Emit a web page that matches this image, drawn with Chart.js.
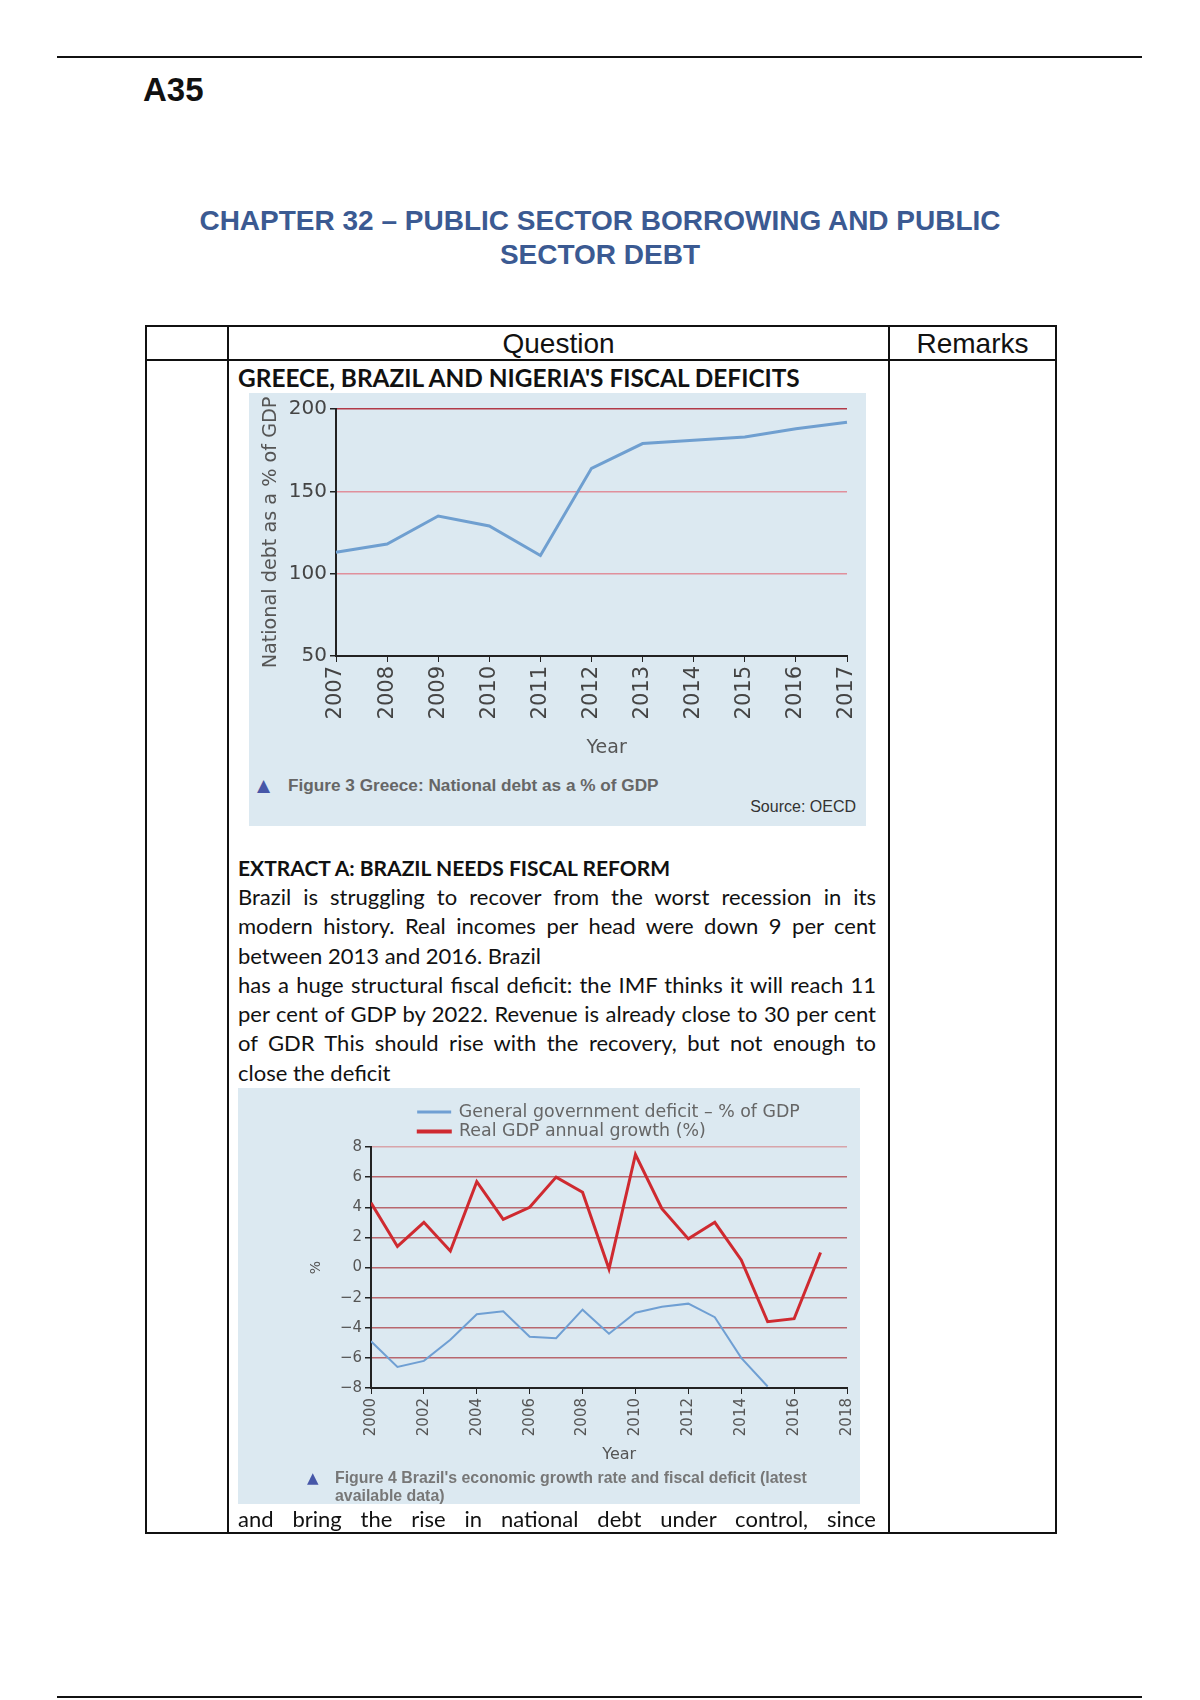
<!DOCTYPE html>
<html>
<head>
<meta charset="utf-8">
<script src="https://cdn.jsdelivr.net/npm/chart.js@4.4.0/dist/chart.umd.min.js"></script>
<style>
  body { margin: 0; width: 1200px; height: 1700px; background: #fff; position: relative; overflow: hidden;
         font-family: "Liberation Sans", Arial, sans-serif; color: #111; }
  .abs { position: absolute; }
  .rule { position: absolute; left: 57px; width: 1085px; height: 2px; background: #111; }
  .vline { position: absolute; width: 2px; background: #111; }
  .hline { position: absolute; height: 2px; background: #111; }
  .title { position: absolute; left: 0; width: 1200px; text-align: center; font-weight: bold; font-size: 28px;
           line-height: 34px; color: #3b5a92; }
  .body { font-family: Lato, "Open Sans", sans-serif; font-size: 22px; }
  .just { text-align: justify; text-align-last: justify; }
  .panel { position: absolute; background: #dce9f1; }
  .cap { position: absolute; font-weight: bold; color: #666; }
  .tri { position: absolute; font-family: "DejaVu Sans"; color: #4657a8; }
</style>
</head>
<body>

<div class="rule" style="top:56px"></div>
<div class="rule" style="top:1696px"></div>

<div class="abs" style="left:143px; top:70px; font-size:33px; font-weight:bold; line-height:40px;">A35</div>

<div class="title" style="top:204px">CHAPTER 32 – PUBLIC SECTOR BORROWING AND PUBLIC</div>
<div class="title" style="top:238px">SECTOR DEBT</div>

<!-- table -->
<div class="hline" style="left:146px; top:325px; width:911px"></div>
<div class="hline" style="left:146px; top:359px; width:911px"></div>
<div class="hline" style="left:146px; top:1532px; width:911px"></div>
<div class="vline" style="left:145px; top:325px; height:1209px"></div>
<div class="vline" style="left:227px; top:325px; height:1209px"></div>
<div class="vline" style="left:888px; top:325px; height:1209px"></div>
<div class="vline" style="left:1055px; top:325px; height:1209px"></div>

<div class="abs" style="left:229px; width:659px; top:327px; text-align:center; font-size:28px; line-height:34px;">Question</div>
<div class="abs" style="left:890px; width:165px; top:327px; text-align:center; font-size:28px; line-height:34px;">Remarks</div>

<div class="abs body" style="left:238px; top:365px; line-height:26px; font-size:24.4px; font-weight:bold;">GREECE, BRAZIL AND NIGERIA'S FISCAL DEFICITS</div>

<!-- figure 3 -->
<div class="panel" style="left:249px; top:393px; width:617px; height:433px;">
  <canvas id="greeceChart" width="617" height="370" style="position:absolute; left:0; top:0; width:617px; height:370px;"></canvas>
</div>
<div class="tri" style="left:257px; top:774px; font-size:17px; line-height:22px;">▲</div>
<div class="cap" style="left:288px; top:774px; font-size:17.2px; line-height:22px;">Figure 3 Greece: National debt as a % of GDP</div>
<div class="abs" style="left:700px; width:156px; top:797px; text-align:right; font-size:16px; line-height:20px; color:#333;">Source: OECD</div>

<!-- extract -->
<div class="abs body" style="left:238px; top:855px; line-height:26px; font-size:21px; font-weight:bold;">EXTRACT A: BRAZIL NEEDS FISCAL REFORM</div>
<div class="abs body" style="left:238px; top:882px; width:638px; line-height:29.3px;">
  <div class="just">Brazil is struggling to recover from the worst recession in its</div>
  <div class="just">modern history. Real incomes per head were down 9 per cent</div>
  <div>between 2013 and 2016. Brazil</div>
  <div class="just">has a huge structural fiscal deficit: the IMF thinks it will reach 11</div>
  <div class="just">per cent of GDP by 2022. Revenue is already close to 30 per cent</div>
  <div class="just">of GDR This should rise with the recovery, but not enough to</div>
  <div>close the deficit</div>
</div>

<!-- figure 4 -->
<div class="panel" style="left:238px; top:1088px; width:622px; height:416px;">
  <canvas id="brazilChart" width="622" height="385" style="position:absolute; left:0; top:0; width:622px; height:385px;"></canvas>
</div>
<div class="tri" style="left:307px; top:1468px; font-size:15px; line-height:20px;">▲</div>
<div class="cap" style="left:335px; top:1469px; font-size:15.9px; line-height:18px; color:#777;">Figure 4 Brazil's economic growth rate and fiscal deficit (latest<br>available data)</div>

<div class="abs body just" style="left:238px; top:1505px; width:638px; line-height:28px;">and bring the rise in national debt under control, since</div>

<script>
// Figure 3: Greece national debt as % of GDP
const greeceYears = ['2007', '2008', '2009', '2010', '2011', '2012', '2013', '2014', '2015', '2016', '2017'];
const greeceDebt = [113, 118, 135, 129, 111, 164, 179, 181, 183, 188, 192];
const greeceTicks = [50, 100, 150, 200];

// Figure 4: Brazil growth and deficit
const brazilYears = [2000, 2001, 2002, 2003, 2004, 2005, 2006, 2007, 2008, 2009, 2010, 2011, 2012, 2013, 2014, 2015, 2016, 2017];
const gdpGrowth = [4.3, 1.4, 3.0, 1.1, 5.7, 3.2, 4.0, 6.0, 5.0, -0.1, 7.5, 3.9, 1.9, 3.0, 0.5, -3.6, -3.4, 1.0];
const govDeficit = [-4.9, -6.6, -6.2, -4.8, -3.1, -2.9, -4.6, -4.7, -2.8, -4.4, -3.0, -2.6, -2.4, -3.3, -6.0, -7.9];
const brazilYTicks = [-8, -6, -4, -2, 0, 2, 4, 6, 8];

Chart.defaults.font.family = '"DejaVu Sans", sans-serif';
Chart.defaults.color = '#444';

// keep the plot edges where the page wants them, whatever the rotated labels ask for
function fixX(h) {
  return (scale) => { scale.height = h; scale.paddingLeft = 0; scale.paddingRight = 0; };
}

new Chart(document.getElementById('greeceChart'), {
  type: 'line',
  data: {
    labels: greeceYears,
    datasets: [{
      label: 'National debt as a % of GDP',
      data: greeceDebt,
      borderColor: '#6f9fd0',
      borderWidth: 3,
      pointRadius: 0,
      tension: 0
    }]
  },
  options: {
    responsive: false,
    animation: false,
    devicePixelRatio: 1,
    layout: { padding: { top: 16, right: 19, left: 0, bottom: 0 } },
    plugins: { legend: { display: false }, tooltip: { enabled: false } },
    scales: {
      x: {
        afterFit: fixX(107),
        grid: { drawOnChartArea: false, tickLength: 6, tickColor: '#222' },
        border: { color: '#222', width: 2 },
        ticks: { autoSkip: false, minRotation: 90, maxRotation: 90, padding: 4, color: '#444', font: { size: 21 } },
        // leading spaces nudge the title right, as in the original
        title: { display: true, text: '\u00a0\u00a0\u00a0\u00a0\u00a0Year', color: '#555', font: { size: 19 }, padding: { top: 0, bottom: 4 } }
      },
      y: {
        min: greeceTicks[0],
        max: greeceTicks[greeceTicks.length - 1],
        afterFit: (scale) => { scale.width = 87; },
        afterBuildTicks: (scale) => { scale.ticks = greeceTicks.map(v => ({ value: v })); },
        grid: {
          color: (c) => c.tick.value === 200 ? '#b23a48' : (c.tick.value === 50 ? 'rgba(0,0,0,0)' : '#e0909c'),
          lineWidth: 1.5,
          tickLength: 6,
          tickColor: '#222'
        },
        border: { color: '#222', width: 2 },
        ticks: { padding: 3, color: '#444', font: { size: 20 } },
        title: { display: true, text: 'National debt as a % of GDP', color: '#555', font: { size: 19.2 }, padding: { top: 10, bottom: 0 } }
      }
    }
  }
});

// pad the shorter legend text so both rows line up on the left
function padLabels(chart) {
  const items = Chart.defaults.plugins.legend.labels.generateLabels(chart);
  const ctx = chart.ctx;
  ctx.save();
  ctx.font = '17.4px "DejaVu Sans"';
  const widest = Math.max(...items.map(it => ctx.measureText(it.text).width));
  items.forEach(it => {
    while (ctx.measureText(it.text + '\u00a0').width <= widest) it.text += '\u00a0';
  });
  ctx.restore();
  return items;
}

new Chart(document.getElementById('brazilChart'), {
  type: 'line',
  data: {
    datasets: [{
      label: 'General government deficit \u2013 % of GDP',
      data: govDeficit.map((v, i) => ({ x: brazilYears[i], y: v })),
      borderColor: '#6f9fd3',
      backgroundColor: '#6f9fd3',
      borderWidth: 2,
      pointRadius: 0,
      tension: 0
    }, {
      label: 'Real GDP annual growth (%)',
      data: gdpGrowth.map((v, i) => ({ x: brazilYears[i], y: v })),
      borderColor: '#cf2a30',
      backgroundColor: '#cf2a30',
      borderWidth: 3,
      pointRadius: 0,
      tension: 0
    }]
  },
  options: {
    responsive: false,
    animation: false,
    devicePixelRatio: 1,
    layout: { padding: { top: 13.3, right: 13, left: 0, bottom: 0 } },
    plugins: {
      tooltip: { enabled: false },
      legend: {
        position: 'top',
        fullSize: false,
        align: 'center',
        maxHeight: 45.7,
        labels: { boxWidth: 32, boxHeight: 1, padding: 2, color: '#666', font: { size: 17.4 }, generateLabels: padLabels }
      }
    },
    scales: {
      x: {
        type: 'linear',
        min: 2000,
        max: 2018,
        afterFit: fixX(85),
        grid: { drawOnChartArea: false, tickLength: 6, tickColor: '#222' },
        border: { color: '#222', width: 2 },
        ticks: { stepSize: 2, minRotation: 90, maxRotation: 90, padding: 4, color: '#555', font: { size: 15 },
                 callback: (v) => String(v) },
        title: { display: true, text: '\u00a0\u00a0\u00a0\u00a0Year', color: '#555', font: { size: 16 }, padding: { top: 0, bottom: 9 } }
      },
      y: {
        min: brazilYTicks[0],
        max: brazilYTicks[brazilYTicks.length - 1],
        afterFit: (scale) => { scale.width = 133; },
        afterBuildTicks: (scale) => { scale.ticks = brazilYTicks.map(v => ({ value: v })); },
        grid: {
          color: (c) => c.tick.value === 8 ? '#d8a4aa' : (c.tick.value === -8 ? 'rgba(0,0,0,0)' : '#b8676e'),
          lineWidth: 1.5,
          tickLength: 6,
          tickColor: '#222'
        },
        border: { color: '#222', width: 2 },
        ticks: { padding: 3, color: '#555', font: { size: 15 },
                 callback: (v) => v < 0 ? '\u2212' + Math.abs(v) : String(v) },
        title: { display: true, text: '%', color: '#555', font: { size: 14 }, padding: { top: 70, bottom: 0 } }
      }
    }
  }
});
</script>
</body>
</html>
